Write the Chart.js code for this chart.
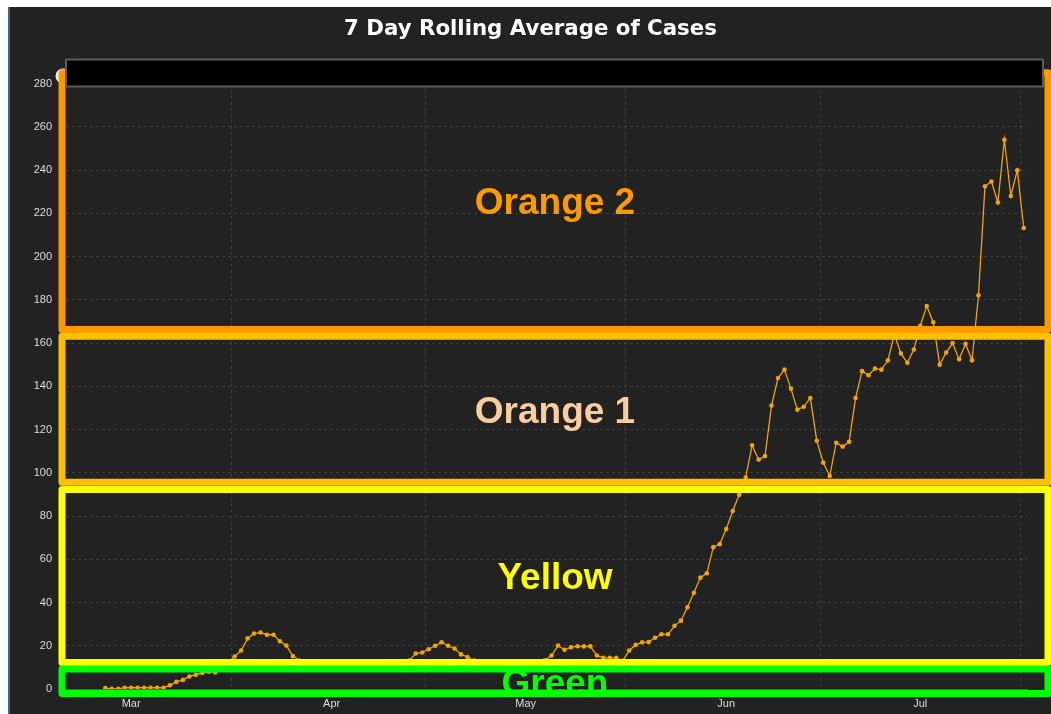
<!DOCTYPE html>
<html>
<head>
<meta charset="utf-8">
<title>7 Day Rolling Average of Cases</title>
<script src="https://cdn.jsdelivr.net/npm/chart.js@4.4.1/dist/chart.umd.min.js"></script>
<style>
  html, body { margin: 0; padding: 0; background: #ffffff; }
  #wrap {
    position: absolute;
    left: 8px;
    top: 7px;
    width: 1041px;
    height: 707px;
    background: #222222;
    border-left: 2px solid #4b6179;
  }
</style>
</head>
<body>
<div id="wrap"><canvas id="myChart"></canvas></div>
<script>
'use strict';

// day 0 = 1 March, first point is 26 Feb
let firstDay = -4;
let caseAverages = [
  0.4, 0.1, 0.1, 0.6, 0.6, 0.6, 0.6, 0.6, 0.6, 0.6,
  1.7, 3.3, 4.2, 5.8, 6.6, 7.4, 8.0, 7.6, 10.5, 12.5,
  15.0, 17.8, 23.4, 25.7, 26.1, 25.1, 25.1, 22.1, 20.1, 15.2,
  13.2, 12.6, 12.1, 11.8, 11.4, 11.0, 10.9, 11.2, 11.6, 11.3,
  10.8, 10.6, 10.9, 11.4, 11.8, 12.2, 12.7, 13.2, 16.4, 16.9,
  18.4, 20.0, 21.6, 20.0, 18.7, 16.0, 14.8, 13.1, 12.4, 11.9,
  11.3, 10.9, 10.7, 11.0, 11.5, 11.9, 12.3, 12.8, 13.3, 15.5,
  20.1, 18.1, 19.3, 19.8, 19.7, 19.7, 15.5, 14.4, 14.4, 14.4,
  13.0, 17.8, 20.4, 21.6, 21.7, 23.7, 25.3, 25.3, 29.2, 31.6,
  37.8, 44.5, 51.5, 53.5, 65.6, 67.0, 74.0, 82.3, 89.8, 97.8,
  112.7, 106.1, 107.7, 131.1, 143.8, 147.7, 138.9, 129.2, 130.5, 134.6,
  114.8, 104.7, 98.5, 113.9, 112.1, 114.3, 134.6, 147.0, 145.1, 148.2,
  147.7, 152.0, 164.0, 155.2, 150.9, 157.0, 168.0, 177.1, 169.6, 150.0,
  155.6, 160.0, 152.5, 159.6, 152.0, 182.1, 232.5, 234.7, 225.0, 254.0,
  228.0, 239.9, 213.2
];

let monthNames = ['Mar', 'Apr', 'May', 'Jun', 'Jul'];
let monthStarts = [0, 31, 61, 92, 122];
let midMonths = [15.5, 45.5, 76.5, 106.5, 137.5];
let yTicks = [0, 20, 40, 60, 80, 100, 120, 140, 160, 180, 200, 220, 240, 260, 280];

// hand drawn risk bands
let bandNames = ['Green', 'Yellow', 'Orange 1', 'Orange 2'];
let bandLow = [-2.1, 12.3, 95.6, 166.3];
let bandHigh = [9.3, 92.3, 163.1, 285];
let bandColors = ['#00ff00', '#ffff00', '#ffc000', '#ff9900'];
let bandTextColors = ['#00ff00', '#ffff00', '#facd9f', '#ff9900'];

let points = [];
for (let i = 0; i < caseAverages.length; i++) {
  points.push({ x: firstDay + i, y: caseAverages[i] });
}

let gridColor = 'rgba(255, 255, 255, 0.13)';

let bandPlugin = {
  id: 'bands',
  afterDatasetsDraw(chart) {
    let ctx = chart.ctx;
    let area = chart.chartArea;
    let y = chart.scales.y;
    let left = area.left + 2;
    let right = chart.width - 3;

    ctx.save();
    // little white handle peeking out at top left
    ctx.fillStyle = '#f2f2f2';
    ctx.beginPath();
    ctx.arc(left + 1, area.top - 7.5, 7.5, 0, Math.PI * 2);
    ctx.fill();

    ctx.font = 'bold 37px "Liberation Sans", Arial, sans-serif';
    ctx.textAlign = 'center';
    ctx.textBaseline = 'alphabetic';
    for (let i = 0; i < bandNames.length; i++) {
      let top = y.getPixelForValue(bandHigh[i]);
      let bottom = y.getPixelForValue(bandLow[i]);
      ctx.fillStyle = bandTextColors[i];
      ctx.fillText(bandNames[i], (left + right) / 2, (top + bottom) / 2 + 13.3);
    }

    ctx.lineWidth = 7;
    ctx.lineJoin = 'round';
    for (let i = bandNames.length - 1; i >= 0; i--) {
      let top = y.getPixelForValue(bandHigh[i]);
      let bottom = y.getPixelForValue(bandLow[i]);
      ctx.strokeStyle = bandColors[i];
      ctx.strokeRect(left, top, right - left, bottom - top);
    }

    // blacked out box over the legend
    let bx = area.left + 6;
    let by = area.top - 24;
    ctx.fillStyle = '#000000';
    ctx.fillRect(bx, by, chart.width - 8 - bx, 27);
    ctx.lineWidth = 2;
    ctx.strokeStyle = '#5c5c5c';
    ctx.strokeRect(bx, by, chart.width - 8 - bx, 27);
    ctx.restore();
  }
};

let ctx = document.getElementById('myChart').getContext('2d');
let chartObject = {
  type: 'line',
  data: {
    datasets: [{
      label: 'Cases',
      data: points,
      borderColor: '#f0a30a',
      backgroundColor: '#f0a30a',
      borderWidth: 1.3,
      pointRadius: 2.3,
      pointBorderWidth: 0,
      pointBackgroundColor: '#f0a30a',
      tension: 0
    }]
  },
  options: {
    responsive: true,
    maintainAspectRatio: false,
    animation: false,
    layout: { padding: { left: 24, right: 24, top: 0, bottom: 4 } },
    plugins: {
      legend: { display: false },
      tooltip: { enabled: false },
      title: {
        display: true,
        text: '7 Day Rolling Average of Cases',
        color: '#ffffff',
        font: { family: '"DejaVu Sans"', size: 21.3, weight: 'bold' },
        padding: { top: 10, bottom: 41 }
      }
    },
    scales: {
      x: {
        type: 'linear',
        min: -11,
        max: 138.5,
        afterFit: function (scale) { scale.height = 21; },
        afterBuildTicks: function (scale) {
          let all = monthStarts.concat(midMonths).sort(function (a, b) { return a - b; });
          scale.ticks = all.map(function (v) { return { value: v }; });
        },
        ticks: {
          autoSkip: false,
          maxRotation: 0,
          padding: 8,
          color: '#dddddd',
          font: { family: '"Liberation Sans", Arial, sans-serif', size: 11 },
          callback: function (value) {
            let idx = monthStarts.indexOf(value);
            return idx >= 0 ? monthNames[idx] : '';
          }
        },
        grid: {
          drawTicks: false,
          color: function (c) {
            if (c.tick && midMonths.includes(c.tick.value)) {
              return gridColor;
            }
            return 'rgba(0,0,0,0)';
          }
        },
        border: { display: true, color: '#5a5a5a', width: 1, dash: [3, 3] }
      },
      y: {
        min: 0,
        max: 280,
        afterFit: function (scale) { scale.width = 26; },
        afterBuildTicks: function (scale) {
          scale.ticks = yTicks.map(function (v) { return { value: v }; });
        },
        ticks: {
          padding: 8,
          color: '#dddddd',
          font: { family: '"Liberation Sans", Arial, sans-serif', size: 11 }
        },
        grid: { drawTicks: false, color: gridColor },
        border: { display: false, dash: [3, 3] }
      }
    }
  },
  plugins: [bandPlugin]
};
new Chart(ctx, chartObject); // eslint-disable-line
</script>
</body>
</html>
